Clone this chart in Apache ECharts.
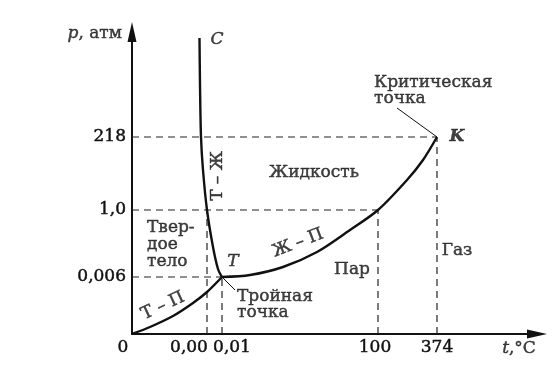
<!DOCTYPE html>
<html>
<head>
<meta charset="utf-8">
<script src="https://cdn.jsdelivr.net/npm/echarts@6/dist/echarts.min.js"></script>
<style>html,body{margin:0;padding:0;background:#fff}#c{width:560px;height:372px}</style>
</head>
<body>
<div id="c"></div>
<script>
// Schematic phase diagram of water (axes are not to scale; values are schematic positions)
const xTickLabels = ['0', '0,00', '0,01', '100', '374'];
const xTickAt = [0, 75, 90, 246, 305];
const yTickLabels = ['0,006', '1,0', '218'];
const yTickAt = [57, 124, 197];

// Curves (schematic axis units)
const sublimation = [[0, 0], [18, 7], [41, 18], [61, 31], [75, 42], [90, 57]];
const melting = [[90, 57], [86, 65], [81, 87], [75, 124], [71, 164], [69, 197], [68, 250], [67.5, 296]];
const vaporization = [[90, 57], [118, 59], [151, 67], [185, 82], [218, 104], [246, 124], [275, 154], [291, 174], [305, 197]];

const triplePoint = [xTickAt[2], yTickAt[0]];
const criticalPoint = [xTickAt[4], yTickAt[2]];

const FONT = 'DejaVu Serif';
const INK = '#111';
const FS = 17;
const TXT = { fontFamily: FONT, fontSize: FS, color: INK, textBorderColor: INK, textBorderWidth: 0.45 };

// guide (dashed) lines built from tick positions
const guides = [
  [[0, yTickAt[2]], criticalPoint],
  [[0, yTickAt[1]], [xTickAt[3], yTickAt[1]]],
  [[0, yTickAt[0]], triplePoint],
  [[xTickAt[1], 0], [xTickAt[1], yTickAt[1]]],
  [[xTickAt[2], 0], triplePoint],
  [[xTickAt[3], 0], [xTickAt[3], yTickAt[1]]],
  [[xTickAt[4], 0], criticalPoint]
];

const xLabelShift = [-9, -18, 10, -3, 0];
const xRich = {};
xTickLabels.forEach((t, i) => {
  const d = xLabelShift[i];
  xRich['x' + i] = Object.assign({}, TXT, {
    padding: [0, d < 0 ? -2 * d : 0, 0, d > 0 ? 2 * d : 0]
  });
});
const italic = Object.assign({}, TXT, { fontStyle: 'italic' });

function textPoint(value, text, opts) {
  return {
    value: value,
    label: Object.assign({ show: true, formatter: text, position: 'inside' }, TXT, opts || {})
  };
}

const annotations = [
  textPoint([182, 161], 'Жидкость'),
  textPoint([15, 89], 'Твер-\nдое\nтело', { position: 'right', distance: 0, lineHeight: 17, align: 'left' }),
  textPoint([220, 64], 'Пар'),
  textPoint([325, 83], 'Газ'),
  textPoint([31, 28], 'Т – П', { rotate: 25 }),
  textPoint([166, 91], 'Ж – П', { rotate: 21 }),
  textPoint([86, 158], 'Т – Ж', { rotate: 90 }),
  textPoint([85, 294], 'C', { fontStyle: 'italic' }),
  textPoint([101, 72], 'T', { fontStyle: 'italic' }),
  textPoint([325, 197], 'K', { fontStyle: 'italic', fontWeight: 'bold' }),
  textPoint([242, 243], 'Критическая\nточка', { position: 'right', distance: 0, lineHeight: 16, align: 'left' }),
  textPoint([105, 29], 'Тройная\nточка', { position: 'right', distance: 0, lineHeight: 16, align: 'left' }),
  textPoint([-10, 300], '{i|p}, атм', { position: 'left', distance: 0, rich: { i: italic } }),
  textPoint([387, -15], '{i|t},°C', { rich: { i: italic } })
];

const series = [];
guides.forEach(g => series.push({
  type: 'line', data: g, symbol: 'none', silent: true, z: 1,
  lineStyle: { color: '#222', width: 1.2, type: [7, 5] }
}));
[sublimation, melting, vaporization].forEach(c => series.push({
  type: 'line', data: c, symbol: 'none', smooth: 0.3, z: 3,
  lineStyle: { color: INK, width: 2.4 }
}));
// leader lines
series.push({ type: 'line', data: [triplePoint, [103, 44]], symbol: 'none', z: 2, lineStyle: { color: INK, width: 1 } });
series.push({ type: 'line', data: [criticalPoint, [265, 226]], symbol: 'none', z: 2, lineStyle: { color: INK, width: 1 } });
series.push({ type: 'scatter', data: annotations, symbolSize: 0, clip: false, z: 5, silent: true });

const chart = echarts.init(document.getElementById('c'), null, { renderer: 'canvas' });
chart.setOption({
  animation: false,
  backgroundColor: '#fff',
  grid: { left: 132, right: 23, top: 32, bottom: 38 },
  xAxis: {
    type: 'value', min: 0, max: 405,
    axisLine: { show: true, symbol: ['none', 'triangle'], symbolSize: [9, 20], lineStyle: { color: INK, width: 2 } },
    axisTick: { show: false },
    splitLine: { show: false },
    axisLabel: {
      customValues: xTickAt, margin: 5,
      formatter: v => { const i = xTickAt.indexOf(v); return i < 0 ? '' : '{x' + i + '|' + xTickLabels[i] + '}'; },
      rich: xRich
    }
  },
  yAxis: {
    type: 'value', min: 0, max: 302,
    axisLine: { show: true, symbol: ['none', 'triangle'], symbolSize: [9, 20], lineStyle: { color: INK, width: 2 } },
    axisTick: { show: false },
    splitLine: { show: false },
    axisLabel: Object.assign({
      customValues: yTickAt, margin: 6,
      formatter: v => { const i = yTickAt.indexOf(v); return i < 0 ? '' : yTickLabels[i]; }
    }, TXT)
  },
  series: series
});
</script>
</body>
</html>
